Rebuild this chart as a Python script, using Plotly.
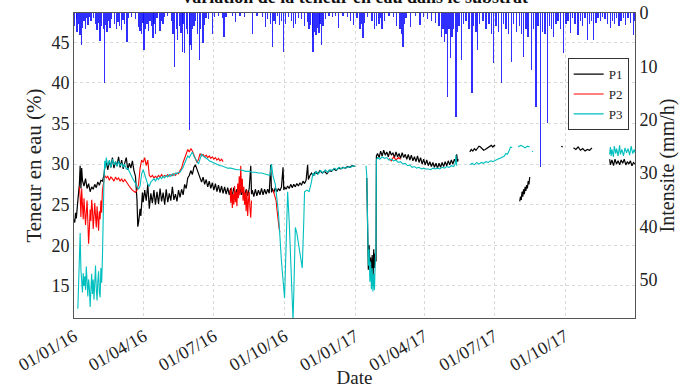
import pandas as pd
import plotly.graph_objects as go

START = pd.Timestamp("2016-01-01")

# ---- rainfall intensity (mm/h), day offsets from 2016-01-01 ----
rain_days = [1, 3, 4, 6, 8, 10, 11, 13, 15, 16, 18, 20, 22, 25, 28, 30, 32, 34, 36, 38, 40, 41, 43, 45, 47, 49, 53, 55, 57, 59, 62, 64, 66, 69, 71,
             75, 80, 84, 86, 88, 90, 91, 93, 95, 97, 99, 101, 103, 104, 106, 108, 112, 114, 116, 118, 122,
             127, 129, 131, 133, 135, 137, 139, 141, 142, 144, 146, 148, 150, 151, 153, 154, 156, 158, 161, 163, 165, 168, 170, 172, 175, 180, 183,
             188, 193, 195, 198, 206, 210, 216, 222, 232, 238, 245, 249, 252, 256, 258, 260, 262, 265, 267, 270, 273, 275,
             279, 283, 286, 288, 292, 296, 300, 304, 306, 308, 310, 311, 313, 315, 317, 319, 320, 322, 324, 327, 332, 336, 340, 344, 350, 356,
             360, 364, 368, 372, 374, 376, 378, 382, 388, 391, 394, 397, 399, 401, 404, 410, 416, 420, 424, 426, 428, 430, 432, 438, 444, 450, 455,
             460, 465, 470, 475, 478, 480, 482, 484, 486, 488, 490, 492, 494, 497, 499, 501, 504, 507, 510, 514, 518, 520, 523, 525, 528, 532, 536, 540, 543, 546,
             549, 552, 556, 559, 562, 565, 569, 572, 576, 580, 582, 585, 588, 591, 595, 598, 601, 604, 607, 610, 613, 616, 619, 621, 624, 627, 630, 633, 637,
             640, 643, 646, 649, 652, 656, 659, 662, 665, 668, 671, 673, 676, 679, 682, 685, 688, 691, 694, 698, 701, 703, 706, 709, 712, 715, 718, 721, 724, 728, 730]
rain_vals = [2.5, 1.2, 3.5, 2.0, 4.2, 6.0, 2.8, 1.5, 3.0, 1.0, 2.2, 0.8, 1.5, 1.0, 2.0, 3.2, 1.8, 5.3, 2.5, 3.0, 13.1, 2.2, 3.5, 1.5, 2.8, 1.2, 2.0, 3.0, 1.6, 2.5, 3.2, 1.4, 2.0, 5.4, 1.0,
             0.8, 1.2, 2.6, 3.3, 4.0, 1.8, 7.0, 3.0, 2.0, 3.3, 1.5, 2.4, 4.6, 2.0, 4.0, 1.0, 3.3, 1.5, 2.0, 0.8, 0.6,
             1.5, 4.0, 10.1, 3.0, 5.0, 2.5, 3.8, 7.4, 2.0, 7.5, 3.0, 4.0, 22.0, 6.0, 7.0, 3.0, 2.5, 1.5, 4.0, 8.8, 3.0, 5.6, 2.2, 1.0, 1.2, 3.9, 0.8,
             0.6, 0.9, 4.5, 0.8, 0.5, 1.6, 0.6, 0.7, 3.9, 0.6, 0.8, 2.7, 1.2, 2.0, 6.3, 1.5, 2.0, 0.6, 2.3, 1.5, 7.3, 2.0,
             0.8, 1.5, 2.8, 2.0, 1.0, 1.2, 2.4, 1.6, 3.0, 2.2, 4.5, 7.3, 3.5, 4.2, 2.8, 3.8, 2.0, 6.0, 2.5, 1.2, 0.6, 0.8, 0.6, 2.8, 0.5, 0.7,
             1.5, 2.2, 1.0, 3.0, 2.0, 4.7, 1.8, 0.8, 1.5, 3.0, 2.5, 2.0, 1.0, 3.0, 1.5, 0.6, 0.8, 2.5, 3.0, 4.0, 6.3, 2.0, 1.0, 2.6, 0.6, 2.2, 0.8,
             1.2, 1.5, 1.8, 2.5, 4.5, 3.0, 5.5, 4.0, 15.7, 3.0, 8.4, 4.5, 3.0, 19.5, 3.5, 2.5, 8.8, 2.0, 1.5, 3.0, 15.0, 2.5, 3.5, 7.0, 2.0, 1.5, 3.0, 2.0, 4.0, 9.4,
             2.5, 3.5, 13.1, 2.0, 3.0, 4.0, 9.2, 2.0, 3.5, 2.5, 4.0, 8.2, 3.0, 4.5, 10.7, 3.0, 17.6, 2.5, 28.9, 3.5, 4.0, 20.7, 2.5, 3.0, 4.5, 2.0, 1.5, 3.0, 7.5,
             2.0, 1.5, 3.8, 1.0, 2.0, 4.1, 1.5, 2.5, 1.0, 5.0, 2.0, 1.5, 5.0, 1.8, 1.0, 1.5, 0.8, 1.2, 2.0, 2.8, 1.5, 2.0, 1.0, 2.5, 1.5, 1.0, 2.2, 1.0, 1.8, 4.1, 1.5]

# ---- soil water content (%), day offsets; None = no data ----
p1_days = [0, 1, 2, 3, 5, 7, 8, 9, 10, 11, 13, 15, 17, 19, 21, 23, 25, 27, 29, 31, 33, 35, 37, 39, 40, 42, 44, 46, 48, 50, 52, 54, 56, 58, 60, 62, 64, 66, 68, 70, 72, 74, 76, 78, 80,
           82, 83, 84, 85, 86, 87, 88, 89, 90, 92, 94, 96, 98, 100, 102, 104, 106, 108, 110, 112, 114, 116, 118, 120, 122, 124, 126, 128, 130, 132, 134, 136, 138, 140, 142,
           144, 146, 148, 150, 152, 154, 156, 158, 160, 162, 164, 166, 168, 170, 172, 174, 176, 178, 180, 182, 184, 186, 188, 190, 192, 194, 196, 198, 200, 202, 204, 206,
           208, 210, 212, 214, 216, 218, 220, 222, 224, 226, 228, 230, 231, 232, 234, 236, 238, 240, 242, 244, 246, 248, 250, 252, 254, 256, 257, 258, 260, 262, 264, 266,
           268, 270, 272, 273, 274, 276, 278, 280, 282, 284, 286, 288, 290, 292, 294, 296, 298, 300, 302, 304, 305, 307, 309, 311, 314, 317, 320, 323, 326, 329, 332, 335,
           338, 341, 344, 347, 350, 353, 356, 359, 362, 366, 367,
           381, 382, 383, 384, 385, 386, 387, 388, 389, 390, 391, 392, 393, 393.5, 395, 397, 399, 401, 403, 405, 407, 409, 411, 413, 415, 417, 419, 421, 423, 425, 427, 429,
           431, 433, 435, 437, 439, 441, 443, 445, 447, 449, 451, 453, 455, 457, 459, 461, 463, 465, 467, 469, 471, 473, 475, 477, 479, 481, 483, 485, 487, 489, 491, 493,
           495, 497, 498, 499, 500, 501,
           515, 517, 519, 521, 523, 525, 527, 529, 531, 533, 535, 537, 539, 541, 543, 545, 547, 548, 549,
           580, 581, 582, 583, 584, 585, 586, 587, 588, 589, 590, 591, 592, 593, 594,
           634, 636, 637,
           650, 653, 656, 659, 662, 665, 668, 671, 674, 675,
           697, 698, 700, 702, 704, 706, 708, 710, 712, 714, 716, 718, 720, 722, 724, 726, 728, 730]
p1_vals = [23.2, 22.8, 24.0, 23.3, 25.5, 27.5, 29.8, 27.0, 29.5, 28.0, 27.3, 28.2, 27.0, 27.6, 26.6, 27.2, 26.9, 27.5, 27.1, 27.8, 27.4, 28.0, 27.9, 28.6, 29.6, 30.2, 29.3, 30.4, 29.6, 30.8, 29.5, 30.3, 29.8, 30.9, 29.6, 30.5, 29.4, 30.2, 30.8, 29.3, 30.1, 29.5, 30.4, 29.2, 28.5,
           25.5, 22.3, 22.8, 23.5, 24.5, 23.6, 25.8, 26.5, 25.3, 26.8, 25.5, 27.5, 24.5, 26.4, 25.2, 26.8, 25.0, 26.6, 25.1, 27.0, 25.4, 26.5, 25.0, 26.9, 25.3, 26.4, 25.5, 27.2, 25.6, 26.3, 25.4, 26.8, 25.9, 26.9, 26.2,
           27.5, 27.0, 28.3, 28.6, 29.2, 28.7, 29.6, 29.9, 29.3, 28.6, 28.3, 27.8, 28.4, 27.5, 28.1, 27.2, 27.9, 27.0, 27.7, 26.8, 27.6, 26.6, 27.4, 26.5, 27.3, 26.4, 27.2, 26.3, 27.1, 26.2, 27.0, 26.1,
           27.1, 26.2, 26.9, 26.1, 27.0, 26.2, 26.8, 26.0, 26.9, 26.1, 27.0, 29.8, 26.3, 26.8, 26.0, 26.9, 26.1, 26.8, 26.2, 27.0, 26.2, 26.9, 26.3, 26.9, 26.4, 29.9, 26.5, 27.0, 26.5, 27.1, 26.6, 27.0,
           26.7, 27.2, 29.6, 26.8, 27.2, 26.9, 27.3, 27.0, 27.5, 27.1, 27.5, 27.2, 27.6, 27.3, 27.7, 27.4, 27.9, 27.6, 28.0, 29.9, 28.1, 28.6, 28.9, 28.6, 29.0, 28.8, 29.2, 28.9, 29.1, 28.8, 29.2, 29.1,
           29.4, 29.2, 29.5, 29.4, 29.6, 29.5, 29.7, 29.6, 29.8, 29.7, None,
           28.3, 24.0, 17.0, 20.0, 17.5, 18.5, 16.0, 18.8, 15.0, 19.5, 17.2, 19.0, 18.0, 31.0, 31.3, 30.8, 31.6, 31.0, 31.7, 31.1, 31.5, 30.9, 31.6, 31.1, 31.4, 30.8, 31.5, 30.9, 31.3, 30.7, 31.4, 30.8,
           31.2, 30.6, 31.2, 30.5, 31.1, 30.4, 30.9, 30.3, 31.0, 30.2, 30.8, 30.0, 30.6, 29.9, 30.5, 29.8, 30.3, 29.7, 30.2, 29.6, 30.1, 29.5, 30.1, 29.6, 30.2, 29.7, 30.3, 29.8, 30.4, 29.9, 30.5, 30.0,
           30.6, 30.2, 31.2, 30.3, 30.6, None,
           31.5, 31.8, 31.6, 31.9, 31.7, 32.0, 32.2, 32.1, 31.9, 31.7, 31.8, 31.9, 32.1, 32.2, 32.3, 32.1, 32.3, 32.2, None,
           25.4, 26.0, 25.6, 26.6, 26.0, 26.9, 26.3, 27.2, 26.7, 27.4, 27.0, 27.9, 27.5, 28.4, None,
           32.2, 32.1, None,
           32.0, 31.8, 32.1, 31.7, 31.9, 31.6, 31.8, 31.7, 32.0, None,
           30.6, 29.9, 30.5, 29.8, 30.6, 30.0, 30.4, 29.9, 30.5, 30.1, 30.6, 29.9, 30.3, 30.0, 30.4, 29.8, 30.2, 30.0]

p2_days = [7, 8, 9, 10, 11, 12, 13, 14, 15, 16, 17, 18, 19, 20, 21, 22, 23, 24, 25, 26, 27, 28, 29, 30, 31, 32, 33, 34, 35, 36, 37, 38, 39, 40, 42, 44, 46, 48, 50, 52,
           54, 56, 58, 60, 62, 64, 66, 68, 70, 72, 74, 76, 78, 80, 82, 84, 86, 88, 90, 92, 94, 96, 98, 100, 102, 104, 106, 108, 110, 112, 114, 116, 118, 120, 122, 124,
           126, 128, 130, 132, 134, 136, 138, 140, 142, 144, 146, 148, 150, 152, 154, 156, 158, 160, 162, 164, 166, 168, 170, 172, 174, 176, 178, 180, 182, 184, 186,
           188, 190, 192, 194, 195,
           203, 204, 205, 206, 207, 208, 209, 210, 211, 212, 213, 214, 215, 216, 217, 218, 219, 220, 221, 222, 223, 224, 225, 226, 227, 228, 229, 230, 231, 232,
           259, 261, 263, 264, 265, 266, 267, 268, 269,
           410, 413, 416, 419, 422, 425]
p2_vals = [27.2, 26.0, 23.5, 27.0, 25.0, 23.2, 25.8, 24.5, 22.5, 24.0, 25.5, 23.0, 20.2, 22.0, 24.4, 23.0, 25.6, 24.5, 22.0, 23.5, 25.2, 23.6, 22.2, 24.8, 23.2, 21.8, 24.2, 23.2, 25.5, 24.0, 26.8, 27.5, 28.2, 28.6, 28.3, 28.5, 28.0, 28.4, 28.2, 27.9,
           28.4, 28.1, 28.3, 27.9, 28.2, 27.8, 28.1, 27.8, 27.6, 27.3, 27.0, 26.8, 26.6, 26.5, 26.8, 27.5, 29.5, 30.5, 30.2, 30.8, 29.8, 30.5, 28.6, 28.4, 28.6, 28.3, 28.5, 28.3, 28.6, 28.4, 28.7, 28.4, 28.6, 28.5, 28.7, 28.5,
           28.7, 28.6, 28.8, 28.6, 28.9, 28.8, 29.2, 29.5, 30.2, 30.8, 31.4, 31.8, 31.5, 31.9, 31.6, 31.2, 30.6, 30.2, 30.6, 31.3, 31.0, 31.2, 30.9, 31.1, 30.8, 31.0, 30.7, 30.9, 30.6, 30.8, 30.5,
           30.7, 30.4, 30.6, 30.3, None,
           26.8, 25.2, 27.1, 24.6, 26.3, 25.0, 27.3, 25.3, 26.6, 24.8, 27.6, 25.8, 28.5, 26.2, 29.8, 26.5, 28.2, 25.5, 27.2, 25.0, 26.5, 24.2, 26.8, 23.6, 25.5, 26.6, 24.5, 23.4, 25.5, None,
           26.8, 26.2, 25.5, 24.5, 23.5, 22.8, 22.0, 21.6, None,
           30.7, 30.4, 30.9, 30.5, 30.8, 30.6]

p3_days = [5, 6, 7, 8, 9, 10, 11, 12, 13, 14, 15, 16, 17, 18, 19, 20, 21, 22, 23, 24, 25, 26, 27, 28, 29, 30, 31, 32, 33, 34, 35, 36, 37, 38, 39, 40, 41, 42, 44, 46,
           48, 50, 52, 54, 56, 58, 60, 62, 64, 66, 68, 70, 72, 74, 76, 78, 80, 82, 84, 86, 88, 90, 92, 94, 96, 98, 100, 102, 104, 106, 108, 110, 112, 114, 116, 118, 120,
           122, 124, 126, 128, 130, 132, 134, 136, 138, 140, 142, 144, 146, 148, 150, 152, 154, 156, 158, 160, 162, 164, 166, 168, 170, 172, 174, 176, 178, 180, 182, 184,
           186, 188, 190, 192, 194, 196, 198, 200, 204, 208, 212, 216, 220, 224, 228, 232, 236, 240, 244, 248, 252, 255, 257, 259, 262, 266, 270, 274, 276, 278, 280, 282,
           284, 285, 286, 288, 290, 293, 295, 297, 299, 300, 303, 306, 309, 311, 313, 315, 318, 321, 324, 327, 330, 333, 336, 339, 342, 345, 348, 351, 354, 357, 360, 363, 366, 367,
           380, 381, 382, 383, 384, 385, 386, 387, 388, 389, 390, 391, 392, 393, 393.5, 395, 398, 401, 404, 407, 410, 413, 416, 419, 422, 425, 428, 431, 434, 437, 440, 443,
           446, 449, 452, 455, 458, 461, 464, 467, 470, 473, 476, 479, 482, 485, 488, 491, 494, 496, 497, 498, 499,
           515, 518, 521, 524, 527, 530, 533, 536, 539, 542, 545, 548, 551, 554, 557, 560, 562, 564, 566, 568, 570, 571,
           578, 581, 584, 587, 590, 593, 594, 596, 597, 598,
           697, 698, 699, 700, 702, 703, 705, 706, 708, 710, 711, 713, 715, 717, 719, 721, 723, 725, 727, 729, 730]
p3_vals = [12.2, 15.0, 19.5, 21.5, 17.0, 15.5, 14.2, 16.6, 15.0, 16.2, 14.5, 17.4, 15.2, 13.7, 15.8, 14.8, 12.4, 14.5, 16.5, 14.0, 15.8, 13.3, 15.4, 17.5, 14.6, 13.2, 15.6, 16.8, 14.2, 13.6, 17.2, 15.4, 18.5, 24.6, 28.0, 30.4, 29.5, 30.8, 29.8, 30.5,
           29.6, 30.6, 29.9, 30.3, 29.7, 30.4, 29.8, 30.1, 29.6, 30.0, 29.4, 29.5, 29.0, 28.7, 28.3, 28.0, 27.6, 27.2, 26.9, 27.3, 28.8, 29.3, 28.7, 28.0, 27.5, 27.3, 27.8, 28.0, 28.2, 27.9, 28.3, 28.1, 28.4, 28.2, 28.5, 28.3, 28.6,
           28.4, 28.7, 28.5, 28.8, 28.6, 28.9, 28.8, 29.0, 29.0, 29.3, 29.6, 30.1, 30.6, 31.0, 30.8, 31.2, 31.5, 31.0, 30.6, 30.3, 30.0, 30.6, 31.2, 31.0, 30.9, 30.7, 30.6, 30.4, 30.3, 30.2, 30.1, 30.0,
           30.0, 29.9, 29.8, 29.8, 29.7, 29.6, 29.6, 29.5, 29.5, 29.4, 29.3, 29.3, 29.2, 29.1, 29.1, 29.0, 29.0, 28.9, 28.9, 28.8, 28.7, 28.6, 30.0, 28.5, 27.5, 24.0, 18.0, 13.5, 20.0, 26.6, 23.0, 17.0,
           12.5, 10.8, 14.0, 22.2, 21.5, 19.5, 18.2, 17.2, 23.0, 26.6, 26.8, 26.6, 27.8, 28.9, 28.6, 29.1, 28.8, 29.2, 28.9, 29.3, 29.0, 29.3, 29.2, 29.5, 29.3, 29.6, 29.4, 29.6, 29.5, 29.7, 29.6, 29.8, 29.7, None,
           29.8, 28.5, 23.0, 17.5, 19.5, 15.5, 18.0, 14.6, 17.2, 14.3, 16.5, 14.5, 18.0, 20.0, 30.5, 30.8, 30.6, 30.9, 30.7, 30.8, 30.5, 30.6, 30.4, 30.5, 30.2, 30.3, 30.0, 30.1, 29.8, 29.9, 29.6, 29.7,
           29.5, 29.6, 29.4, 29.5, 29.4, 29.4, 29.3, 29.5, 29.4, 29.5, 29.4, 29.6, 29.5, 29.7, 29.6, 29.8, 29.7, 30.0, 31.1, 29.8, None,
           29.9, 30.1, 29.9, 30.2, 30.0, 30.2, 30.1, 30.3, 30.2, 30.4, 30.3, 30.5, 30.6, 30.7, 30.9, 31.0, 31.3, 31.2, 31.6, 32.1, 32.0, None,
           32.1, 32.3, 32.2, 32.0, 32.2, 32.1, None, 31.6, 31.5, None,
           31.2, 32.1, 31.0, 31.8, 30.9, 32.2, 31.3, 31.9, 31.0, 32.3, 31.2, 31.8, 31.0, 32.0, 31.4, 31.9, 31.1, 32.2, 31.3, 31.8, 31.4]

tick_dates = ["2016-01-01", "2016-04-01", "2016-07-01", "2016-10-01", "2017-01-01", "2017-04-01", "2017-07-01", "2017-10-01"]
tick_text = ["01/01/16", "01/04/16", "01/07/16", "01/10/16", "01/01/17", "01/04/17", "01/07/17", "01/10/17"]


def to_dates(days):
    return [START + pd.Timedelta(days=d) for d in days]


FONT = "Liberation Serif"

fig = go.Figure()
fig.add_trace(go.Bar(x=to_dates(rain_days), y=rain_vals, yaxis="y2", width=1.8 * 86400000,
                     marker=dict(color="rgba(10,10,255,0.85)", line=dict(width=0)), showlegend=False))
fig.add_trace(go.Scatter(x=to_dates(p1_days), y=p1_vals, mode="lines", name="P1",
                         line=dict(color="black", width=1.2)))
fig.add_trace(go.Scatter(x=to_dates(p2_days), y=p2_vals, mode="lines", name="P2",
                         line=dict(color="#ff0000", width=1.1)))
fig.add_trace(go.Scatter(x=to_dates(p3_days), y=p3_vals, mode="lines", name="P3",
                         line=dict(color="#00bfbf", width=1.1)))

fig.add_annotation(text="<b>Variation de la teneur en eau dans le substrat</b>", xref="paper", yref="paper",
                   x=0.5, y=1.052, xanchor="center", yanchor="middle", showarrow=False,
                   font=dict(size=18, color="#111", family=FONT))

fig.update_layout(
    width=679, height=388,
    margin=dict(l=74, r=44, t=13, b=70, autoexpand=False),
    paper_bgcolor="white", plot_bgcolor="white",
    font=dict(family=FONT, size=18, color="#222"),
    bargap=0,
    showlegend=True,
    legend=dict(x=0.88, y=0.852, xanchor="left", yanchor="top", bgcolor="white",
                bordercolor="#333", borderwidth=1, font=dict(size=13, family=FONT), itemwidth=30),
    xaxis=dict(range=["2016-01-01", "2017-12-31"], tickvals=tick_dates, ticktext=tick_text,
               tickangle=-30, showgrid=True, gridcolor="#d9d9d9", griddash="dot",
               showline=True, mirror=True, linecolor="#555", linewidth=1, ticks="", automargin=False,
               title=dict(text="Date", standoff=2, font=dict(size=19)), zeroline=False),
    yaxis=dict(range=[11.05, 48.6], tickvals=[15, 20, 25, 30, 35, 40, 45], showgrid=True,
               gridcolor="#d9d9d9", griddash="dot", showline=True, mirror=True, linecolor="#555",
               linewidth=1, ticks="", automargin=False,
               title=dict(text="Teneur en eau (%)", standoff=4, font=dict(size=21)), zeroline=False),
    yaxis2=dict(range=[57.2, 0], overlaying="y", side="right", tickvals=[0, 10, 20, 30, 40, 50],
                showgrid=False, showline=True, linecolor="#555", ticks="", automargin=False,
                title=dict(text="Intensite (mm/h)", standoff=0, font=dict(size=20)), zeroline=False),
)

fig.write_html("out.html", config={"displayModeBar": False},
               post_script="document.body.style.margin='0px';")
